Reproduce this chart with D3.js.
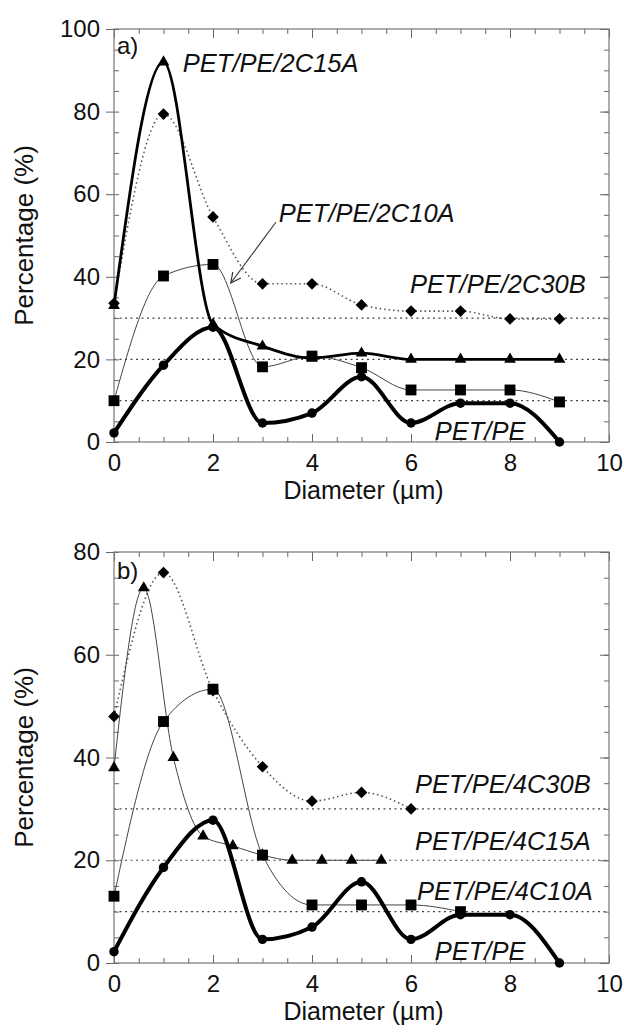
<!DOCTYPE html>
<html>
<head>
<meta charset="utf-8">
<script src="https://cdn.jsdelivr.net/npm/d3@7"></script>
<style>
  body { margin: 0; background: #fff; }
  svg { display: block; }
  text { font-family: Arial, "Liberation Sans", sans-serif; fill: #111; }
</style>
</head>
<body>
<div id="chart"></div>
<script>
// -------------------------------
// Data
// -------------------------------
const diameters = [0, 1, 2, 3, 4, 5, 6, 7, 8, 9];
const petPe     = [2.2, 18.6, 27.8, 4.6, 7, 15.8, 4.6, 9.4, 9.4, 0];

// panel a
const a2C15A = [33, 92, 28.5, 23.2, 20.3, 21.5, 20, 20, 20, 20];
const a2C10A = [10, 40.2, 43, 18.2, 20.8, 18, 12.6, 12.6, 12.6, 9.7];
const a2C30B = [33.6, 79.4, 54.5, 38.3, 38.3, 33.2, 31.7, 31.7, 29.8, 29.8];

// panel b
const diam4C15A = [0, 0.6, 1.2, 1.8, 2.4, 3.0, 3.6, 4.2, 4.8, 5.4];
const b4C15A    = [38, 73, 40, 24.7, 22.8, 21, 20, 20, 20, 20];
const diam4C10A = [0, 1, 2, 3, 4, 5, 6, 7];
const b4C10A    = [13, 47, 53.3, 21, 11.3, 11.3, 11.3, 10];
const diam4C30B = [0, 1, 2, 3, 4, 5, 6];
const b4C30B    = [48, 76, 53, 38.2, 31.5, 33.2, 30];

const refLines = [10, 20, 30];
const xTicks = [0, 2, 4, 6, 8, 10];

// -------------------------------
// Layout
// -------------------------------
const W = 624, H = 1036;
const left = 114, right = 609;

const svg = d3.select("#chart").append("svg")
  .attr("width", W).attr("height", H)
  .attr("viewBox", `0 0 ${W} ${H}`);

svg.append("defs").append("marker")
  .attr("id", "arrow")
  .attr("viewBox", "0 0 12 12")
  .attr("refX", 11).attr("refY", 6)
  .attr("markerWidth", 12).attr("markerHeight", 12)
  .attr("markerUnits", "userSpaceOnUse")
  .attr("orient", "auto")
  .append("path")
  .attr("d", "M1,1 L11,6 L1,11")
  .attr("fill", "none")
  .attr("stroke", "#333")
  .attr("stroke-width", 1.2);

const zip = (xs, ys) => xs.map((x, i) => ({ x, y: ys[i] }));

const styles = {
  thick:  { width: 4,   color: "#000", dash: null },
  medium: { width: 2.8, color: "#000", dash: null },
  thin:   { width: 1,   color: "#444", dash: null },
  dotted: { width: 1.6, color: "#555", dash: "1.5,3" }
};

function drawPanel(cfg) {
  const x = d3.scaleLinear().domain([0, 10]).range([left, right]);
  const y = d3.scaleLinear().domain([0, cfg.yMax]).range([cfg.bottom, cfg.top]);
  const g = svg.append("g");

  // ----- dotted reference lines -----
  g.selectAll(".ref")
    .data(refLines)
    .enter().append("line")
    .attr("x1", x(0)).attr("x2", x(10))
    .attr("y1", d => y(d)).attr("y2", d => y(d))
    .attr("stroke", "#444")
    .attr("stroke-width", 1.2)
    .attr("stroke-dasharray", "2,3.5");

  // ----- axes -----
  const xMinor = d3.range(0, 10.01, 0.5);
  const yMinor = d3.range(0, cfg.yMax + 0.01, 5);
  const yMajor = d3.range(0, cfg.yMax + 0.01, 20);

  const bottomAxis = g.append("g")
    .attr("transform", `translate(0,${cfg.bottom})`)
    .call(d3.axisBottom(x).tickValues(xTicks).tickSizeInner(-8).tickSizeOuter(0).tickPadding(12));
  bottomAxis.selectAll("text").style("font-size", "24px").style("fill", "#111");

  g.append("g")
    .attr("transform", `translate(0,${cfg.bottom})`)
    .call(d3.axisBottom(x).tickValues(xMinor).tickSizeInner(-5).tickSizeOuter(0).tickFormat(""));
  g.append("g")
    .attr("transform", `translate(0,${cfg.top})`)
    .call(d3.axisTop(x).tickValues(xTicks).tickSizeInner(-9).tickSizeOuter(0).tickFormat(""));
  g.append("g")
    .attr("transform", `translate(0,${cfg.top})`)
    .call(d3.axisTop(x).tickValues(xMinor).tickSizeInner(-5).tickSizeOuter(0).tickFormat(""));

  const leftAxis = g.append("g")
    .attr("transform", `translate(${left},0)`)
    .call(d3.axisLeft(y).tickValues(yMajor).tickSizeInner(8).tickSizeOuter(0).tickPadding(6));
  leftAxis.selectAll("text").style("font-size", "24px").style("fill", "#111");
  g.append("g")
    .attr("transform", `translate(${left},0)`)
    .call(d3.axisLeft(y).tickValues(yMinor).tickSizeInner(-5).tickSizeOuter(0).tickFormat(""));
  g.append("g")
    .attr("transform", `translate(${right},0)`)
    .call(d3.axisRight(y).tickValues(yMajor).tickSizeInner(-9).tickSizeOuter(0).tickFormat(""));
  g.append("g")
    .attr("transform", `translate(${right},0)`)
    .call(d3.axisRight(y).tickValues(yMinor).tickSizeInner(-5).tickSizeOuter(0).tickFormat(""));

  g.selectAll(".domain").remove();
  g.selectAll(".tick line").attr("stroke", "#666");

  // ----- frame -----
  g.append("rect")
    .attr("x", left).attr("y", cfg.top)
    .attr("width", right - left).attr("height", cfg.bottom - cfg.top)
    .attr("fill", "none").attr("stroke", "#777").attr("stroke-width", 1.2);

  // ----- axis titles -----
  g.append("text")
    .attr("x", (left + right) / 2 + 2)
    .attr("y", cfg.bottom + 57)
    .attr("text-anchor", "middle")
    .style("font-size", "25px")
    .text("Diameter (\u00b5m)");

  g.append("text")
    .attr("transform", `translate(33,${(cfg.top + cfg.bottom) / 2}) rotate(-90)`)
    .attr("text-anchor", "middle")
    .style("font-size", "26px")
    .text("Percentage (%)");

  // ----- lines -----
  const line = d3.line()
    .x(d => x(d.x))
    .y(d => y(d.y))
    .curve(d3.curveMonotoneX);

  cfg.series.forEach(s => {
    const st = styles[s.style];
    g.append("path")
      .datum(s.points)
      .attr("d", line)
      .attr("fill", "none")
      .attr("stroke", st.color)
      .attr("stroke-width", st.width)
      .attr("stroke-linejoin", "round")
      .attr("stroke-dasharray", st.dash);
  });

  // ----- markers -----
  const symbolType = {
    circle: d3.symbolCircle,
    square: d3.symbolSquare,
    diamond: d3.symbolSquare,
    triangle: d3.symbolTriangle
  };
  const symbolSize = { circle: 70, square: 118, diamond: 68, triangle: 60 };

  cfg.series.forEach(s => {
    const rot = s.marker === "diamond" ? " rotate(45)" : "";
    g.selectAll(null)
      .data(s.points)
      .enter().append("path")
      .attr("transform", d => `translate(${x(d.x)},${y(d.y)})${rot}`)
      .attr("d", d3.symbol().type(symbolType[s.marker]).size(symbolSize[s.marker]))
      .attr("fill", "#000");
  });

  // ----- series labels -----
  cfg.labels.forEach(l => {
    g.append("text")
      .attr("x", x(l.x))
      .attr("y", y(l.y))
      .style("font-size", l.tag ? "24px" : "25.5px")
      .style("font-style", l.tag ? "normal" : "italic")
      .text(l.text);
  });

  // ----- arrow -----
  if (cfg.arrow) {
    g.append("line")
      .attr("x1", x(cfg.arrow.from[0])).attr("y1", y(cfg.arrow.from[1]))
      .attr("x2", x(cfg.arrow.to[0])).attr("y2", y(cfg.arrow.to[1]))
      .attr("stroke", "#333")
      .attr("stroke-width", 1.1)
      .attr("marker-end", "url(#arrow)");
  }
}

// -------------------------------
// Panel a
// -------------------------------
drawPanel({
  top: 29, bottom: 442, yMax: 100,
  series: [
    { points: zip(diameters, a2C30B), style: "dotted", marker: "diamond" },
    { points: zip(diameters, a2C10A), style: "thin",   marker: "square" },
    { points: zip(diameters, a2C15A), style: "medium", marker: "triangle" },
    { points: zip(diameters, petPe),  style: "thick",  marker: "circle" }
  ],
  labels: [
    { text: "a)", x: 0.06, y: 94, tag: true },
    { text: "PET/PE/2C15A", x: 1.39, y: 89.6 },
    { text: "PET/PE/2C10A", x: 3.33, y: 53.3 },
    { text: "PET/PE/2C30B", x: 5.98, y: 36.1 },
    { text: "PET/PE", x: 6.48, y: 0.5 }
  ],
  arrow: { from: [3.27, 53.2], to: [2.36, 38.5] }
});

// -------------------------------
// Panel b
// -------------------------------
drawPanel({
  top: 552, bottom: 963, yMax: 80,
  series: [
    { points: zip(diam4C30B, b4C30B), style: "dotted", marker: "diamond" },
    { points: zip(diam4C10A, b4C10A), style: "thin",   marker: "square" },
    { points: zip(diam4C15A, b4C15A), style: "thin",   marker: "triangle" },
    { points: zip(diameters, petPe),  style: "thick",  marker: "circle" }
  ],
  labels: [
    { text: "b)", x: 0.06, y: 74.7, tag: true },
    { text: "PET/PE/4C30B", x: 6.08, y: 33.1 },
    { text: "PET/PE/4C15A", x: 6.08, y: 22 },
    { text: "PET/PE/4C10A", x: 6.12, y: 12.3 },
    { text: "PET/PE", x: 6.48, y: 0.6 }
  ]
});
</script>
</body>
</html>
